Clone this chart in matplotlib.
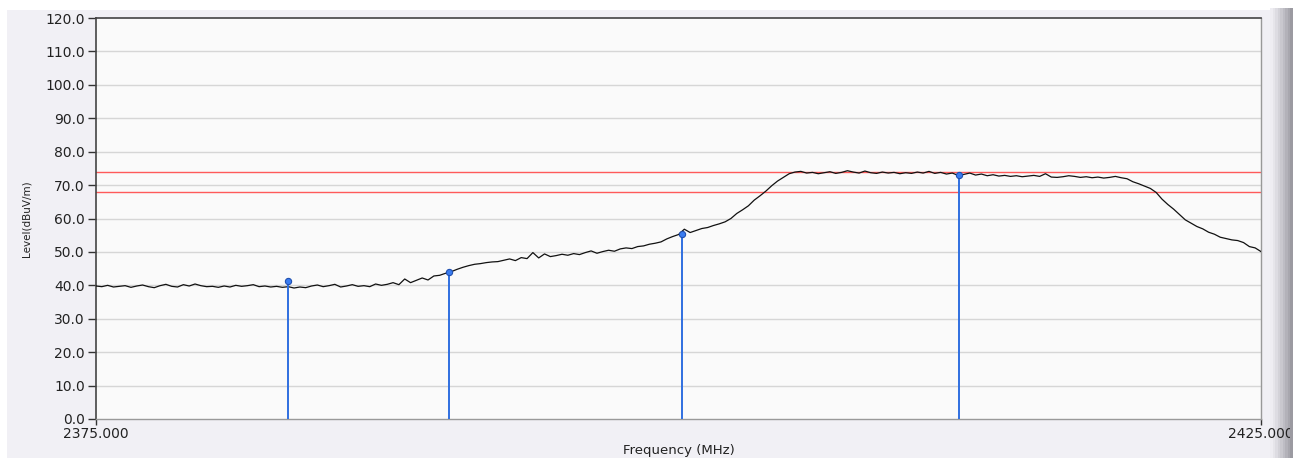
import numpy as np
import matplotlib
matplotlib.use("Agg")
import matplotlib.pyplot as plt
from matplotlib.patches import Rectangle

# ---- data ----
f_start, f_stop = 2375.0, 2425.0
level = [
    # 2375.00 - 2383.25
    39.8, 39.6, 40.0, 39.5, 39.7, 39.9, 39.4, 39.8, 40.1, 39.6, 39.3, 39.9, 40.3, 39.7, 39.5, 40.2, 39.8,
    40.4, 39.9, 39.6, 39.7, 39.4, 39.8, 39.5, 40.0, 39.7, 39.9, 40.2, 39.6, 39.8, 39.5, 39.7, 39.4, 39.6,
    # 2383.50 - 2388.00
    39.2, 39.5, 39.3, 39.8, 40.1, 39.6, 39.9, 40.3, 39.5, 39.8, 40.2, 39.7, 39.9, 39.6, 40.4, 40.0, 40.3,
    40.8, 40.2,
    # 2388.25 - 2390.25
    41.9, 40.8, 41.5, 42.2, 41.6, 42.8, 43.0, 43.6, 44.1,
    # 2390.50 - 2393.50
    44.8, 45.4, 45.9, 46.3, 46.5, 46.8, 47.0, 47.1, 47.5, 47.9, 47.4, 48.3, 48.0,
    # 2393.75 - 2398.25
    49.8, 48.2, 49.4, 48.6, 48.9, 49.3, 49.0, 49.5, 49.2, 49.8, 50.3, 49.6, 50.1, 50.5, 50.2, 50.9, 51.2,
    51.0, 51.6,
    # 2398.50 - 2400.25
    51.8, 52.3, 52.6, 53.0, 53.9, 54.6, 55.2, 56.8,
    # 2400.50 - 2402.00
    55.8, 56.4, 57.0, 57.3, 57.9, 58.4, 59.0,
    # 2402.25 - 2404.75
    60.0, 61.5, 62.6, 63.8, 65.5, 66.8, 68.2, 69.8, 71.2, 72.3, 73.4,
    # 2405.00 - 2412.00
    73.9, 74.1, 73.6, 73.8, 73.4, 73.7, 74.0, 73.5, 73.8, 74.3, 73.9, 73.6, 74.2, 73.7, 73.5, 73.9, 73.6,
    73.8, 73.4, 73.7, 73.5, 73.9, 73.6, 74.1, 73.5, 73.8, 73.3, 73.6, 72.9,
    # 2412.25 - 2416.25
    73.2, 73.6, 73.0, 73.3, 72.8, 73.1, 72.7, 72.9, 72.6, 72.8, 72.5, 72.7, 72.9, 72.6, 73.4, 72.4, 72.3,
    # 2416.50 - 2419.25
    72.5, 72.8, 72.6, 72.3, 72.5, 72.2, 72.4, 72.1, 72.3, 72.6, 72.2, 71.9,
    # 2419.50 - 2425.00
    71.0, 70.4, 69.7, 69.0, 67.8, 65.8, 64.2, 62.8, 61.2, 59.6, 58.6, 57.6, 56.9, 55.9, 55.3, 54.4, 54.0,
    53.6, 53.4, 52.8, 51.6, 51.2, 50.1,
]
freq = np.linspace(f_start, f_stop, len(level))

marker_freq = [2383.25, 2390.15, 2400.15, 2412.05]
marker_level = [41.3, 44.0, 55.3, 72.9]

limit_lines = [74.0, 68.0]
yticks = np.arange(0, 121, 10)
xtick_vals = [2375.0, 2425.0]

# ---- figure ----
W, H = 1301, 458
fig = plt.figure(figsize=(W / 100, H / 100), dpi=100, facecolor="white")

# panel background decorations (figure coords)
bg = Rectangle((7 / W, 0), (1273 - 7) / W, (H - 10) / H,
               transform=fig.transFigure, facecolor="#f1f0f5",
               edgecolor="none", zorder=-10)
fig.add_artist(bg)
grad_cols = ["#eeedf2", "#e6e5ea", "#dddce2", "#d3d2d8", "#c9c8ce", "#bebdc4", "#b3b2b9", "#a8a7ae"]
gx0, gx1 = 1270, 1290
step = (gx1 - gx0) / len(grad_cols)
for i, c in enumerate(grad_cols):
    fig.add_artist(Rectangle(((gx0 + i * step) / W, 0), step / W + 0.0005, (H - 8) / H,
                             transform=fig.transFigure, facecolor=c,
                             edgecolor="none", zorder=-9))
# darkest edge of the frame and the white margin sit in front (clip the last tick label)
fig.add_artist(Rectangle((1290 / W, 0), 2.5 / W, (H - 8) / H, transform=fig.transFigure,
                         facecolor="#9b9aa1", edgecolor="none", zorder=5))
fig.add_artist(Rectangle((1292.5 / W, 0), (W - 1292.5) / W, 1, transform=fig.transFigure,
                         facecolor="white", edgecolor="none", zorder=5))

ax = fig.add_axes([96 / W, (H - 419) / H, (1261 - 96) / W, (419 - 18) / H])
ax.set_zorder(1)
ax.set_facecolor("#fafafa")

for y in yticks[1:-1]:
    ax.axhline(y, color="#d6d6d6", lw=1.0, zorder=1)

for y in limit_lines:
    ax.axhline(y, color="#ff5a5a", lw=1.0, zorder=2)

ax.plot(freq, level, color="#111111", lw=0.9, zorder=3)

ax.vlines(marker_freq, 0, marker_level, color="#2f6fe0", lw=1.4, zorder=4)
ax.plot(marker_freq, marker_level, "o", ms=4.5, mfc="#3a7cf0", mec="#1f4fb0", mew=0.8, zorder=5)

ax.set_xlim(f_start, f_stop)
ax.set_ylim(0, 120)
ax.set_yticks(yticks)
ax.set_yticklabels([f"{v:.1f}" for v in yticks], fontsize=10, color="#222222")
ax.set_xticks(xtick_vals)
ax.set_xticklabels([f"{v:.3f}" for v in xtick_vals], fontsize=10, color="#222222")
ax.tick_params(axis="y", length=6, width=1, color="#333333", pad=2)
ax.tick_params(axis="x", length=4, width=1, color="#333333", pad=2)

for side in ["left", "top"]:
    ax.spines[side].set_color("#444444")
    ax.spines[side].set_linewidth(1.2)
for side in ["right", "bottom"]:
    ax.spines[side].set_color("#999999")
    ax.spines[side].set_linewidth(1.0)

ax.set_xlabel("Frequency (MHz)", fontsize=9.5, color="#222222", labelpad=2)
ax.set_ylabel("Level(dBuV/m)", fontsize=7.5, color="#222222", labelpad=10)

fig.savefig("out.png", dpi=100, facecolor=fig.get_facecolor())
